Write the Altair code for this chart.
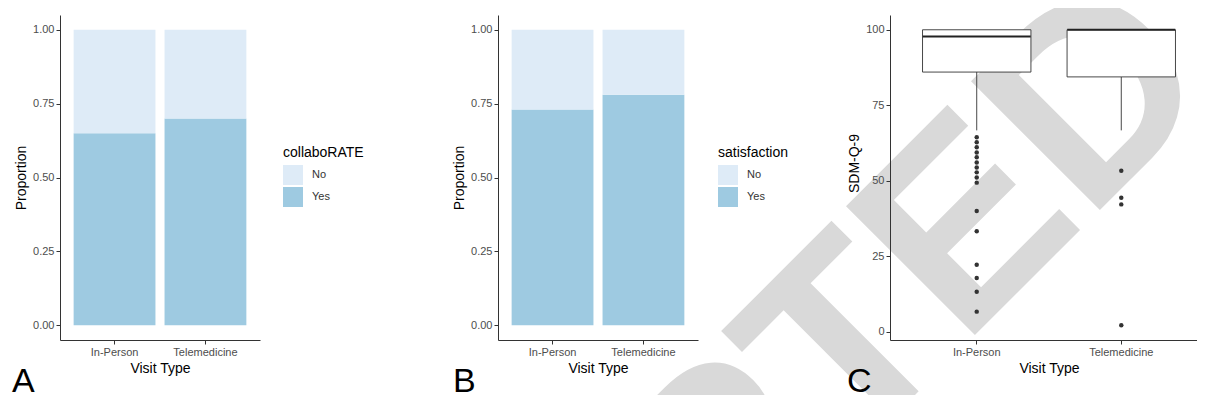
import altair as alt
import pandas as pd

# ---------------- data ----------------
visit_types = ["In-Person", "Telemedicine"]
response_levels = ["No", "Yes"]
response_colors = ["#deebf7", "#9ecae1"]

collaborate_yes = [0.65, 0.70]      # panel A, proportion "Yes"
satisfaction_yes = [0.73, 0.78]     # panel B, proportion "Yes"

# panel C box statistics (SDM-Q-9)
sdm_lower_whisker = [66.7, 66.7]
sdm_q1 = [86.0, 84.4]
sdm_median = [97.8, 100.0]
sdm_q3 = [100.0, 100.0]
inperson_outliers = [64.4, 62.8, 61.1, 59.4, 57.8, 56.1, 54.4, 52.8, 51.1, 49.4,
                     40.0, 33.3, 22.2, 17.8, 13.3, 6.7]
telemed_outliers = [53.3, 44.4, 42.2, 2.2]

FONT = "Liberation Sans"


def stack_table(yes_values):
    rows = []
    for v, p in zip(visit_types, yes_values):
        rows.append({"visit": v, "resp": "Yes", "y0": 0.0, "y1": p})
        rows.append({"visit": v, "resp": "No", "y0": p, "y1": 1.0})
    return pd.DataFrame(rows)


df_a = stack_table(collaborate_yes)
df_b = stack_table(satisfaction_yes)
df_box = pd.DataFrame({"visit": visit_types, "wlo": sdm_lower_whisker,
                       "q1": sdm_q1, "median": sdm_median, "q3": sdm_q3})
df_out = pd.DataFrame(
    {"visit": ["In-Person"] * len(inperson_outliers) + ["Telemedicine"] * len(telemed_outliers),
     "val": inperson_outliers + telemed_outliers})
dummy = pd.DataFrame({"d": [0]})

# ---------------- layout (plot-area pixel coordinates) ----------------
W, H = 1189, 387
X_AXIS_OFFSET = -55          # x axes at y = 332
Y_RANGE = [332, 7]


def bar_panel(df, x_range, y_axis_offset, legend_title, legend_x):
    return alt.Chart(df).mark_bar().encode(
        x=alt.X("visit:N", sort=visit_types,
                scale=alt.Scale(range=x_range, paddingInner=0.1, paddingOuter=0.15),
                axis=alt.Axis(title="Visit Type", orient="bottom", offset=X_AXIS_OFFSET,
                              labelAngle=0, zindex=2)),
        y=alt.Y("y0:Q", scale=alt.Scale(domain=[-0.05, 1.05], range=Y_RANGE, nice=False, zero=False),
                axis=alt.Axis(title="Proportion", orient="left", offset=y_axis_offset,
                              values=[0, 0.25, 0.5, 0.75, 1.0], format=".2f", zindex=2)),
        y2="y1:Q",
        color=alt.Color("resp:N", sort=response_levels,
                        scale=alt.Scale(domain=response_levels, range=response_colors),
                        legend=alt.Legend(title=legend_title, orient="none",
                                          legendX=legend_x, legendY=138,
                                          symbolType="square", symbolSize=400,
                                          symbolStrokeWidth=0, symbolOpacity=1,
                                          titleFont=FONT, titleFontSize=14,
                                          titleFontWeight="normal", titleColor="#000000",
                                          labelFont=FONT, labelFontSize=11,
                                          labelColor="#333333", labelOffset=9,
                                          rowPadding=2, titlePadding=5)),
    )


panel_a = bar_panel(df_a, [52, 252], -52, "collaboRATE", 275)
panel_b = bar_panel(df_b, [490, 690], -490, "satisfaction", 710)

c_x = alt.X("visit:N", sort=visit_types,
            scale=alt.Scale(range=[882, 1200], paddingInner=0.25, paddingOuter=0.225),
            axis=alt.Axis(title="Visit Type", orient="bottom", offset=X_AXIS_OFFSET,
                          labelAngle=0, zindex=2))
c_y_scale = alt.Scale(domain=[-2.69, 104.89], range=Y_RANGE, nice=False, zero=False)
c_y_axis = alt.Axis(title="SDM-Q-9", orient="left", offset=-882,
                    values=[0, 25, 50, 75, 100], titleY=155, zindex=2)

whisk = alt.Chart(df_box).mark_rule(color="#333333", strokeWidth=0.9).encode(
    x=c_x, y=alt.Y("wlo:Q", scale=c_y_scale, axis=c_y_axis), y2="q1:Q")
box = alt.Chart(df_box).mark_bar(fill="white", stroke="#333333", strokeWidth=0.9).encode(
    x=c_x, y=alt.Y("q1:Q", scale=c_y_scale, axis=c_y_axis), y2="q3:Q")
med = alt.Chart(df_box).mark_tick(color="#222222", thickness=2, size=108, opacity=1).encode(
    x=c_x, y=alt.Y("median:Q", scale=c_y_scale, axis=c_y_axis))
outl = alt.Chart(df_out).mark_circle(color="#333333", size=20, opacity=1).encode(
    x=c_x, y=alt.Y("val:Q", scale=c_y_scale, axis=c_y_axis))
panel_c = alt.layer(whisk, box, med, outl)

watermark = alt.Chart(dummy).mark_text(
    angle=315, fontSize=265, font=FONT, fontWeight="bold", color="#d9d9d9",
    align="left", baseline="alphabetic").encode(
    x=alt.value(184), y=alt.value(1110), text=alt.value("ACCEPTED"))


def letter(t, x):
    return alt.Chart(dummy).mark_text(fontSize=34, font=FONT, color="#000000",
                                      align="left", baseline="alphabetic").encode(
        x=alt.value(x), y=alt.value(384), text=alt.value(t))


chart = alt.layer(
    watermark, panel_a, panel_b, panel_c,
    letter("A", 4), letter("B", 445), letter("C", 839),
).resolve_scale(
    x="independent", y="independent", color="independent"
).properties(
    width=W, height=H, padding=0,
    autosize=alt.AutoSizeParams(type="none"),
).configure_view(
    strokeWidth=0
).configure_axis(
    grid=False, labelFont=FONT, labelFontSize=11, labelColor="#4d4d4d",
    titleFont=FONT, titleFontSize=14, titleFontWeight="normal", titleColor="#000000",
    domainColor="#333333", domainWidth=1, tickColor="#333333", tickSize=4,
    labelPadding=2, titlePadding=4,
)

chart.save("out.html", embed_options={"renderer": "svg", "actions": False})
